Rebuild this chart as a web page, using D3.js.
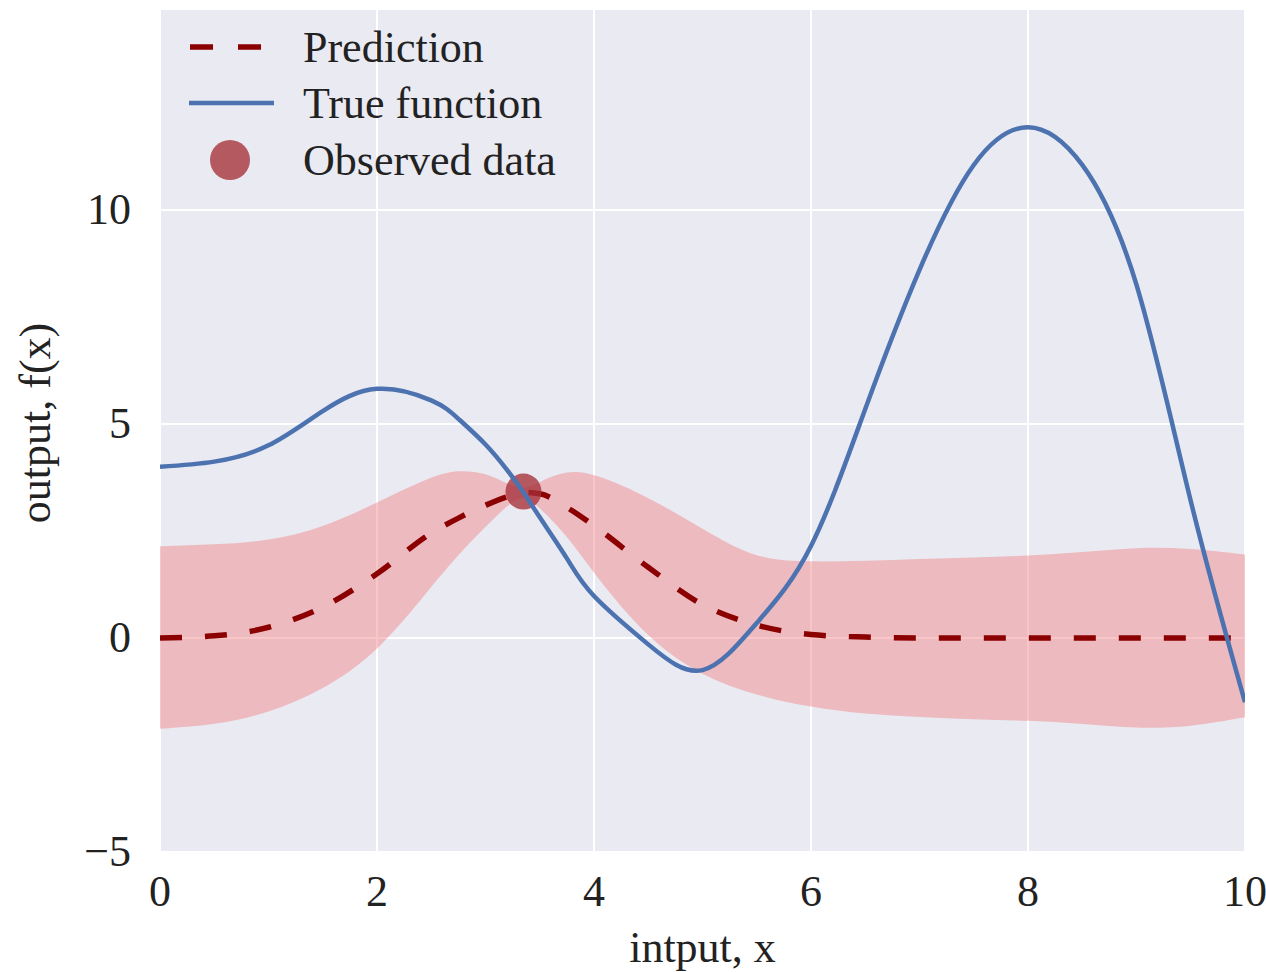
<!DOCTYPE html>
<html>
<head>
<meta charset="utf-8">
<script src="https://cdn.jsdelivr.net/npm/d3@7"></script>
<style>
  body { margin: 0; background: #fff; }
  svg text { font-family: "Liberation Serif", "DejaVu Serif", serif; fill: #222; }
</style>
</head>
<body>
<svg id="chart" width="1266" height="972"></svg>
<script>
// sample positions along the input axis
const xs = [0, 0.5, 1, 1.5, 2, 2.5, 2.75, 3, 3.2, 3.35, 3.5, 3.75, 4, 4.5, 5, 5.5, 6, 6.5, 7, 7.5, 8, 8.5, 9, 9.5, 10];

// true function
const trueY = [4.0, 4.12, 4.5, 5.3, 5.82, 5.55, 5.12, 4.52, 3.92, 3.4, 2.82, 1.86, 0.98, -0.15, -0.75, 0.35, 2.15, 5.35, 8.6, 11.05, 11.93, 11.05, 8.25, 3.2, -1.5];

// GP prediction mean and band
const meanY = [0, 0.05, 0.25, 0.72, 1.5, 2.45, 2.8, 3.1, 3.3, 3.4, 3.37, 3.05, 2.62, 1.65, 0.78, 0.3, 0.08, 0.02, 0, 0, 0, 0, 0, 0, 0];
const upperY = [2.14, 2.18, 2.26, 2.57, 3.16, 3.78, 3.93, 3.86, 3.6, 3.45, 3.65, 3.92, 3.85, 3.3, 2.55, 1.82, 1.78, 1.8, 1.85, 1.88, 1.92, 2.0, 2.12, 2.1, 1.95];
const lowerY = [-2.12, -2.04, -1.76, -1.22, -0.36, 1.2, 1.95, 2.6, 3.1, 3.35, 3.05, 2.4, 1.5, -0.05, -0.9, -1.35, -1.62, -1.78, -1.85, -1.9, -1.93, -2.0, -2.12, -2.08, -1.85];

// observed point
const obsX = [3.35];
const obsY = [3.42];

const xTicks = [0, 2, 4, 6, 8, 10];
const yTicks = [-5, 0, 5, 10];

const legendLabels = ['Prediction', 'True function', 'Observed data'];

const svg = d3.select('#chart');
const pLeft = 160, pRight = 1245, pTop = 10, pBottom = 852;

const x = d3.scaleLinear().domain([0, 10]).range([pLeft, pRight]);
const y = d3.scaleLinear().domain([-5, 14.67]).range([pBottom, pTop]);

const rows = xs.map((v, i) => ({ x: v, t: trueY[i], m: meanY[i], hi: upperY[i], lo: lowerY[i] }));

svg.append('defs').append('clipPath').attr('id', 'clip')
    .append('rect').attr('x', pLeft).attr('y', pTop).attr('width', pRight - pLeft).attr('height', pBottom - pTop);

svg.append('rect')
    .attr('x', pLeft).attr('y', pTop)
    .attr('width', pRight - pLeft).attr('height', pBottom - pTop)
    .attr('fill', '#eaeaf2');

// grid
svg.append('g').selectAll('line').data(xTicks).join('line')
    .attr('x1', d => x(d)).attr('x2', d => x(d))
    .attr('y1', pTop).attr('y2', pBottom)
    .attr('stroke', '#fff').attr('stroke-width', 2);
svg.append('g').selectAll('line').data(yTicks).join('line')
    .attr('x1', pLeft).attr('x2', pRight)
    .attr('y1', d => y(d)).attr('y2', d => y(d))
    .attr('stroke', '#fff').attr('stroke-width', 2);

const plot = svg.append('g').attr('clip-path', 'url(#clip)');

const band = d3.area()
    .x(d => x(d.x)).y0(d => y(d.lo)).y1(d => y(d.hi))
    .curve(d3.curveBasis);
plot.append('path').datum(rows)
    .attr('d', band)
    .attr('fill', 'lightcoral').attr('fill-opacity', 0.45);

const meanLine = d3.line().x(d => x(d.x)).y(d => y(d.m)).curve(d3.curveMonotoneX);
plot.append('path').datum(rows)
    .attr('d', meanLine)
    .attr('fill', 'none')
    .attr('stroke', '#8b0000').attr('stroke-width', 5.5)
    .attr('stroke-dasharray', '22,23');

plot.selectAll('circle.obs').data(obsX).join('circle')
    .attr('class', 'obs')
    .attr('cx', d => x(d)).attr('cy', (d, i) => y(obsY[i]))
    .attr('r', 18)
    .attr('fill', '#a53038').attr('fill-opacity', 0.78);

const trueLine = d3.line().x(d => x(d.x)).y(d => y(d.t)).curve(d3.curveNatural);
plot.append('path').datum(rows)
    .attr('d', trueLine)
    .attr('fill', 'none')
    .attr('stroke', '#4c72b0').attr('stroke-width', 4.5);

// tick labels
svg.append('g').selectAll('text').data(xTicks).join('text')
    .attr('x', d => x(d)).attr('y', 906)
    .attr('text-anchor', 'middle')
    .attr('font-size', 44)
    .text(d => d);
svg.append('g').selectAll('text').data(yTicks).join('text')
    .attr('x', 131).attr('y', d => y(d) + 14)
    .attr('text-anchor', 'end')
    .attr('font-size', 44)
    .text(d => d < 0 ? '\u2212' + Math.abs(d) : d);

// axis titles
svg.append('text')
    .attr('x', (pLeft + pRight) / 2).attr('y', 962)
    .attr('text-anchor', 'middle')
    .attr('font-size', 44)
    .text('intput, x');
svg.append('text')
    .attr('transform', 'translate(50,' + ((pTop + pBottom) / 2 - 8) + ') rotate(-90)')
    .attr('text-anchor', 'middle')
    .attr('font-size', 44)
    .text('output, f(x)');

// legend
const legend = svg.append('g');
const rowY = [47, 103, 160];
legend.append('line')
    .attr('x1', 190).attr('x2', 265).attr('y1', rowY[0]).attr('y2', rowY[0])
    .attr('stroke', '#8b0000').attr('stroke-width', 5.5).attr('stroke-dasharray', '23,25');
legend.append('line')
    .attr('x1', 189).attr('x2', 274).attr('y1', rowY[1]).attr('y2', rowY[1])
    .attr('stroke', '#4c72b0').attr('stroke-width', 4.5);
legend.append('circle')
    .attr('cx', 230).attr('cy', rowY[2]).attr('r', 20)
    .attr('fill', '#a53038').attr('fill-opacity', 0.78);
legend.selectAll('text').data(legendLabels).join('text')
    .attr('x', 303).attr('y', (d, i) => rowY[i] + 15)
    .attr('font-size', 44)
    .text(d => d);
</script>
</body>
</html>
